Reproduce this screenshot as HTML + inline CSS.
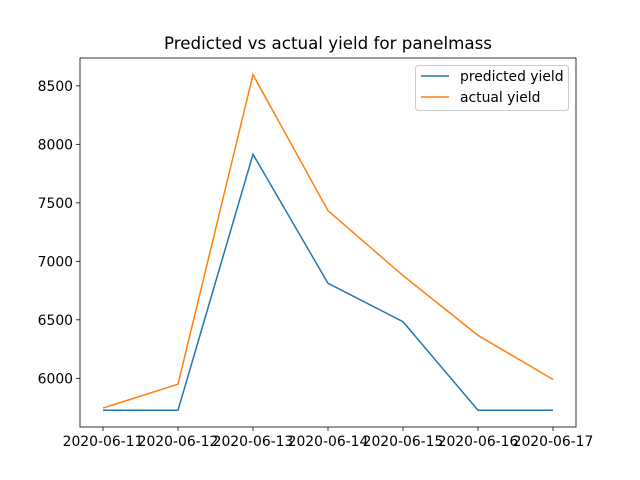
<!DOCTYPE html>
<html><head><meta charset="utf-8"><style>
body{margin:0;background:#fff;}
svg{display:block;font-family:"DejaVu Sans","Liberation Sans",sans-serif;}
</style></head><body>
<svg id="chart" width="640" height="480"></svg>
<script>
const categories=["2020-06-11","2020-06-12","2020-06-13","2020-06-14","2020-06-15","2020-06-16","2020-06-17"];
const predicted=[5727,5727,7915,6812,6484,5727,5727];
const actual=[5746,5950,8595,7433,6878,6367,5990];
const yTicks=[6000,6500,7000,7500,8000,8500];
const L=80,R=576,T=58,B=427;
const yMin=5584,yMax=8738;
const NS="http://www.w3.org/2000/svg";
const svg=document.getElementById('chart');
function xs(i){return 103+i*(553-103)/(categories.length-1);}
function ys(v){return B-(v-yMin)/(yMax-yMin)*(B-T);}
function mk(t,a,p){const e=document.createElementNS(NS,t);for(const k in a)e.setAttribute(k,a[k]);(p||svg).appendChild(e);return e;}
const title=mk('text',{x:328,y:49,'text-anchor':'middle','font-size':16.7,fill:'#000'});
title.textContent='Predicted vs actual yield for panelmass';


categories.forEach((c,i)=>{
  const x=xs(i);
  const tk=mk('line',{x1:x,x2:x,y1:B,y2:B+4,stroke:'#000','stroke-width':0.8});
  
  
  const t=mk('text',{x:x,y:B+19,'text-anchor':'middle','font-size':13.9,fill:'#000'});
  t.textContent=c;
  
  
});
yTicks.forEach(v=>{
  const y=ys(v);
  const tk=mk('line',{x1:L-4,x2:L,y1:y,y2:y,stroke:'#000','stroke-width':0.8});
  
  
  const t=mk('text',{x:L-7,y:y+5,'text-anchor':'end','font-size':13.9,fill:'#000'});
  t.textContent=v;
  
  
});
function line(data,color,name){
  const p=mk('polyline',{points:data.map((v,i)=>xs(i)+','+ys(v)).join(' '),fill:'none',stroke:color,'stroke-width':1.5});
  
  
}
line(predicted,'#1f77b4','predicted-yield-line');
line(actual,'#ff7f0e','actual-yield-line');
const frame=mk('rect',{x:L,y:T,width:R-L,height:B-T,fill:'none',stroke:'#000','stroke-width':0.8});


const lg=mk('g',{});


mk('rect',{x:415.5,y:65.5,width:153,height:45,rx:3,fill:'#fff',stroke:'#ccc','stroke-width':1},lg);
[['predicted yield','#1f77b4',76],['actual yield','#ff7f0e',97]].forEach(([n,c,y])=>{
  const e=mk('g',{},lg);
  
  
  mk('line',{x1:421,x2:449,y1:y,y2:y,stroke:c,'stroke-width':1.5},e);
  const t=mk('text',{x:460,y:y+5,'font-size':13.9,fill:'#000'},e);
  t.textContent=n;
});
</script>
</body></html>
